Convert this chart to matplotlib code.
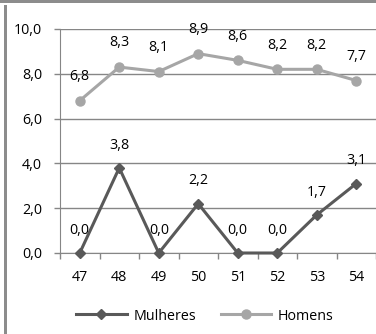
import matplotlib.pyplot as plt
from matplotlib.lines import Line2D
from matplotlib.patches import Rectangle

# Data
categorias = ['47', '48', '49', '50', '51', '52', '53', '54']
mulheres = [0.0, 3.8, 0.0, 2.2, 0.0, 0.0, 1.7, 3.1]
homens = [6.8, 8.3, 8.1, 8.9, 8.6, 8.2, 8.2, 7.7]

plt.rcParams['font.family'] = ['Open Sans', 'DejaVu Sans']

W, H = 376, 334
fig = plt.figure(figsize=(W / 100, H / 100), dpi=100)
ax = fig.add_axes([60 / W, (H - 253) / H, (W - 60) / W, (253 - 29) / H])

x = list(range(len(categorias)))
cor_m = '#595959'
cor_h = '#a6a6a6'
grid_c = '#868686'
fs = 10.3

ax.plot(x, homens, color=cor_h, lw=2.2, marker='o', ms=6.5, label='Homens', zorder=3,
        clip_on=False)
ax.plot(x, mulheres, color=cor_m, lw=2.2, marker='D', ms=5, label='Mulheres', zorder=4,
        clip_on=False)

for xi, v in zip(x, homens):
    ax.annotate(f'{v:.1f}'.replace('.', ','), (xi, v), xytext=(0, 12), textcoords='offset points',
                ha='center', va='bottom', fontsize=fs, color='black')
for xi, v in zip(x, mulheres):
    ax.annotate(f'{v:.1f}'.replace('.', ','), (xi, v), xytext=(0, 11), textcoords='offset points',
                ha='center', va='bottom', fontsize=fs, color='black')

ax.set_ylim(0, 10)
ax.set_xlim(-0.5, -0.5 + (W - 60) / 40.4)
ax.set_yticks([0, 2, 4, 6, 8, 10])
ax.set_yticklabels(['0,0', '2,0', '4,0', '6,0', '8,0', '10,0'], fontsize=fs)
ax.set_xticks(x)
ax.set_xticklabels(categorias, fontsize=fs)
ax.set_xticks([i - 0.5 for i in range(len(categorias) + 1)], minor=True)
ax.tick_params(axis='x', which='major', length=0, pad=12)
ax.tick_params(axis='x', which='minor', length=4, color=grid_c, width=1)
ax.tick_params(axis='y', length=4, color=grid_c, width=1, pad=9)

ax.grid(axis='y', color=grid_c, lw=1)
ax.set_axisbelow(True)
for s in ['top', 'right']:
    ax.spines[s].set_visible(False)
ax.spines['left'].set_color(grid_c)
ax.spines['bottom'].set_color(grid_c)

handles = [Line2D([], [], color=cor_m, lw=2.2, marker='D', ms=5),
           Line2D([], [], color=cor_h, lw=2.2, marker='o', ms=6.5)]
fig.legend(handles, ['Mulheres', 'Homens'], loc='center', bbox_to_anchor=(205 / W, 1 - 316 / H),
           ncol=2, frameon=False, fontsize=fs, handlelength=3.5, columnspacing=1.7,
           handletextpad=0.5)

# Outer frame pieces
fig.add_artist(Rectangle((0, 1 - 3 / H), 1, 3 / H, transform=fig.transFigure,
                         color='#8c8c8c', lw=0))
fig.add_artist(Rectangle((4 / W, 0), 3 / W, 1 - 5 / H, transform=fig.transFigure,
                         color='#8c8c8c', lw=0))

fig.savefig('out.png', dpi=100)
